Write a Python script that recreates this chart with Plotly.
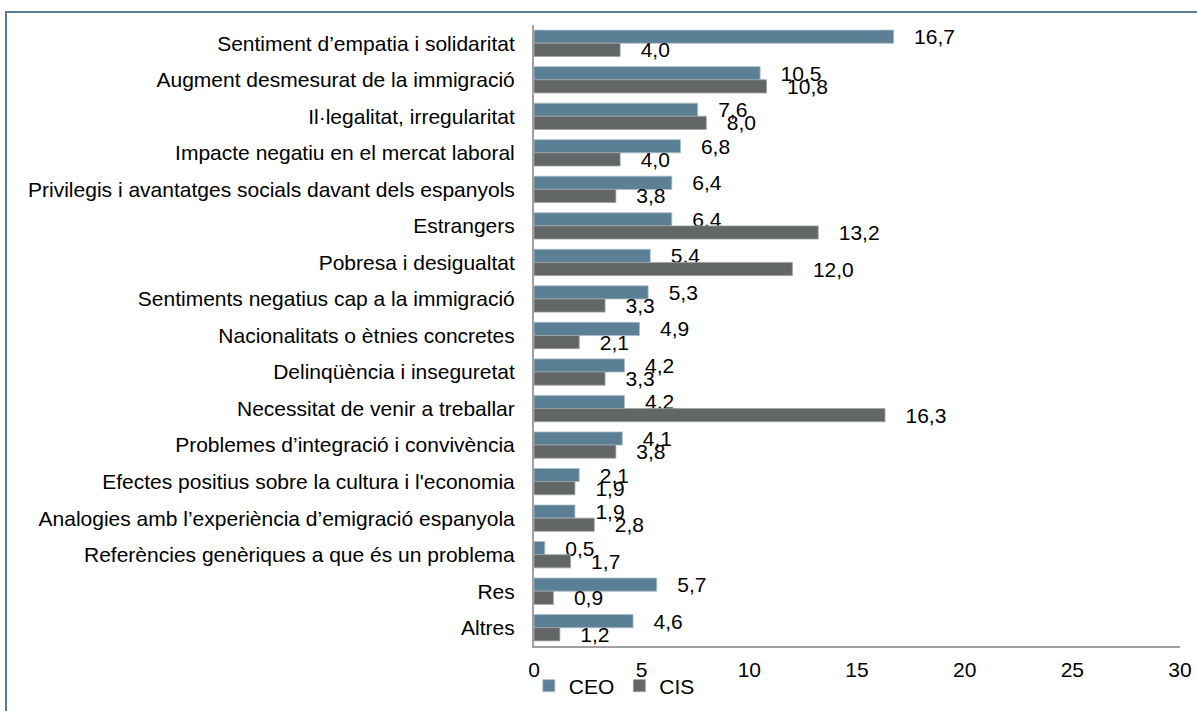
import plotly.graph_objects as go

categories = [
    "Sentiment d’empatia i solidaritat",
    "Augment desmesurat de la immigració",
    "Il·legalitat, irregularitat",
    "Impacte negatiu en el mercat laboral",
    "Privilegis i avantatges socials davant dels espanyols",
    "Estrangers",
    "Pobresa i desigualtat",
    "Sentiments negatius cap a la immigració",
    "Nacionalitats o ètnies concretes",
    "Delinqüència i inseguretat",
    "Necessitat de venir a treballar",
    "Problemes d’integració i convivència",
    "Efectes positius sobre la cultura i l'economia",
    "Analogies amb l’experiència d’emigració espanyola",
    "Referències genèriques a que és un problema",
    "Res",
    "Altres",
]
ceo = [16.7, 10.5, 7.6, 6.8, 6.4, 6.4, 5.4, 5.3, 4.9, 4.2, 4.2, 4.1, 2.1, 1.9, 0.5, 5.7, 4.6]
cis = [4.0, 10.8, 8.0, 4.0, 3.8, 13.2, 12.0, 3.3, 2.1, 3.3, 16.3, 3.8, 1.9, 2.8, 1.7, 0.9, 1.2]
x_ticks = [0, 5, 10, 15, 20, 25, 30]

FONT = "Liberation Sans, Arial, sans-serif"
pad = "\u00a0\u00a0\u00a0"
FS = 21

L, R, T, B = 534, 17, 25, 65
PW = 1197 - L - R
PH = 711 - T - B

fig = go.Figure()
fig.add_trace(go.Bar(
    name="CEO", y=categories, x=ceo, orientation="h",
    marker=dict(color="#5B7F94", line=dict(color="#A9BCC8", width=0.8)),
    texttemplate=pad + "%{x:.1f}", textposition="outside", constraintext="none",
    cliponaxis=False, textfont=dict(size=FS, color="#000000", family=FONT),
))
fig.add_trace(go.Bar(
    name="CIS", y=categories, x=cis, orientation="h",
    marker=dict(color="#636666", line=dict(color="#A0A2A2", width=0.8)),
    texttemplate=pad + "%{x:.1f}", textposition="outside", constraintext="none",
    cliponaxis=False, textfont=dict(size=FS, color="#000000", family=FONT),
))

fig.update_layout(
    width=1197, height=711,
    margin=dict(l=L, r=R, t=T, b=B, autoexpand=False),
    paper_bgcolor="white", plot_bgcolor="white",
    barmode="group", bargap=0.28, bargroupgap=0.0,
    separators=",.",
    font=dict(family=FONT, size=FS, color="#000000"),
    showlegend=True,
    legend=dict(orientation="h", x=-0.008, xanchor="left", y=(646 - 686) / PH, yanchor="middle",
                font=dict(size=FS, family=FONT), itemwidth=30, tracegroupgap=0,
                bgcolor="rgba(0,0,0,0)"),
    shapes=[dict(type="rect", xref="paper", yref="paper",
                 x0=(6 - L) / PW, x1=1.2, y0=-0.3, y1=1 + (T - 12) / PH,
                 line=dict(color="#5A7D91", width=2), fillcolor="rgba(0,0,0,0)", layer="below")],
)
fig.update_xaxes(range=[0, 30], tickvals=x_ticks, showgrid=False, zeroline=False,
                 showline=True, linecolor="#A0A0A0", linewidth=2, automargin=False,
                 tickfont=dict(size=FS, family=FONT), ticks="", ticklabelstandoff=4)
fig.update_yaxes(autorange="reversed", showgrid=False, showline=True, automargin=False,
                 linecolor="#A0A0A0", linewidth=2, ticks="",
                 tickfont=dict(size=FS, family=FONT), ticklabelstandoff=13)

fig.write_html("out.html", config={"displayModeBar": False},
               post_script="document.body.style.margin='0';document.body.style.overflow='hidden';")
